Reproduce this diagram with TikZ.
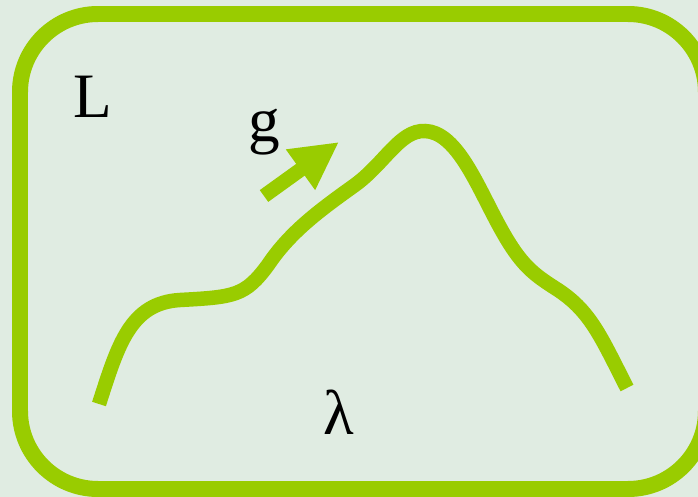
\documentclass[tikz,border=0pt]{standalone}
\usepackage{fontspec}
\setmainfont{Liberation Serif}
\usetikzlibrary{arrows.meta}
\definecolor{leaf}{RGB}{153,204,0}
\definecolor{paper}{RGB}{224,236,226}
\begin{document}
\begin{tikzpicture}[font=\fontsize{36}{40}\selectfont,
  frame/.style={draw=leaf,line width=.32cm,rounded corners=1.56cm},
  path/.style={draw=leaf,line width=.29cm},
  grad/.style={draw=leaf,line width=.29cm,-{Triangle[length=.95cm,width=.93cm]}}]
  \begin{scope}[x=.02cm,y=-.02cm]
    \fill[paper] (0,0) rectangle (698,497);
    \useasboundingbox (0,0) rectangle (698,497);
    \draw[frame] (20,14) rectangle (706,489);
    \draw[path] (99,404) .. controls (118,345) and (130,303) .. (180,300)
      .. controls (235,297) and (245,296) .. (268,265)
      .. controls (290,232) and (320,210) .. (355,185)
      .. controls (385,163) and (400,130) .. (425,131)
      .. controls (455,132) and (475,180) .. (495,218)
      .. controls (518,262) and (530,272) .. (555,288)
      .. controls (590,310) and (600,335) .. (627,388);
    \coordinate (g-tail) at (264,196);
    \coordinate (g-tip) at (339,142);
    \draw[grad] (g-tail) -- (g-tip);
    \node[anchor=base] (L) at (93,117) {L};
    \node[anchor=base] (g) at (264,141) {g};
    \node[anchor=base] (lam) at (339,435) {λ};
  \end{scope}
\end{tikzpicture}
\end{document}
